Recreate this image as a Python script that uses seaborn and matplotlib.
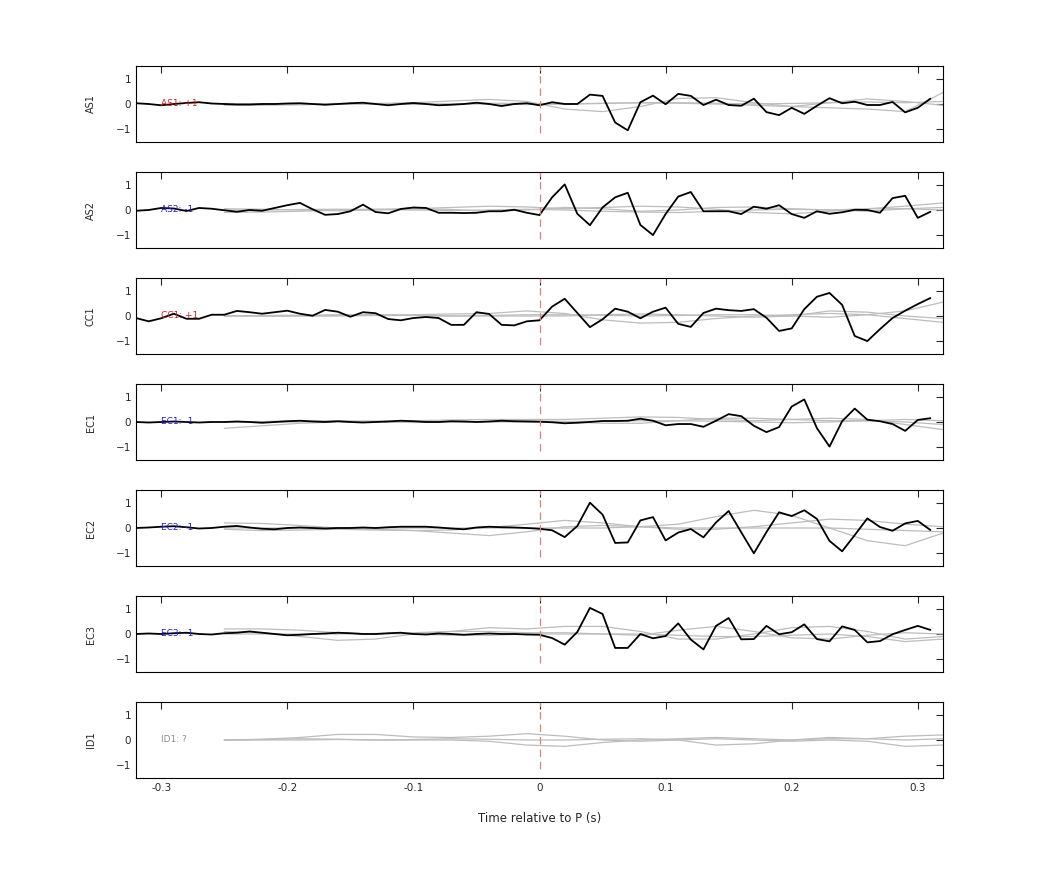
import numpy as np
import pandas as pd
import matplotlib
matplotlib.use("Agg")
import matplotlib.pyplot as plt
import seaborn as sns

stations = ["AS1", "AS2", "CC1", "EC1", "EC2", "EC3", "ID1"]
labels = ["AS1: +1", "AS2: -1", "CC1: +1", "EC1: -1", "EC2: -1", "EC3: -1", "ID1: ?"]
label_colors = ["#d62020", "#2020d0", "#d62020", "#2020d0", "#2020d0", "#2020d0", "#8c8c8c"]

t_black = np.round(np.arange(-32, 32) * 0.01, 2)
t_gray = np.round(np.arange(20) * 0.03 - 0.25, 2)

AS1 = [0.03,0.0,-0.05,0.0,0.04,0.07,0.02,0.0,-0.02,-0.02,0.0,0.0,0.02,0.03,0.0,-0.03,0.0,0.03,0.05,0.0,-0.05,0.0,0.04,0.0,-0.05,-0.03,0.0,0.05,0.0,-0.08,0.0,0.03,
       -0.05,0.07,0.0,0.0,0.37,0.32,-0.73,-1.04,0.07,0.33,-0.01,0.4,0.32,-0.04,0.17,-0.04,-0.07,0.21,-0.32,-0.44,-0.15,-0.39,-0.07,0.23,0.03,0.09,-0.04,-0.04,0.08,-0.33,-0.15,0.21]
AS2 = [-0.03,0.0,0.08,0.06,-0.04,0.08,0.05,-0.01,-0.07,0.0,-0.03,0.08,0.19,0.28,0.03,-0.19,-0.16,-0.05,0.21,-0.08,-0.13,0.04,0.1,0.08,-0.11,-0.11,-0.12,-0.11,-0.05,-0.05,0.01,-0.11,
       -0.2,0.5,1.01,-0.15,-0.6,0.1,0.5,0.68,-0.59,-0.99,-0.16,0.53,0.71,-0.05,-0.05,-0.05,-0.16,0.13,0.05,0.19,-0.16,-0.31,-0.05,-0.15,-0.09,0.01,0.0,-0.11,0.47,0.56,-0.31,-0.07]
CC1 = [-0.08,-0.21,-0.09,0.09,-0.11,-0.11,0.05,0.05,0.2,0.15,0.09,0.15,0.21,0.09,0.01,0.24,0.17,-0.03,0.15,0.11,-0.12,-0.17,-0.08,-0.04,-0.08,-0.35,-0.35,0.15,0.08,-0.35,-0.37,-0.21,
       -0.17,0.37,0.68,0.12,-0.44,-0.13,0.29,0.17,-0.09,0.17,0.33,-0.31,-0.43,0.12,0.29,0.23,0.2,0.27,-0.07,-0.59,-0.49,0.27,0.76,0.91,0.44,-0.79,-0.99,-0.52,-0.08,0.21,0.47,0.71]
EC1 = [0.0,-0.02,0.0,0.02,0.0,-0.02,0.0,0.0,0.02,0.0,-0.03,0.0,0.03,0.05,0.02,0.0,0.03,0.0,-0.02,0.0,0.02,0.05,0.03,0.0,0.0,0.03,0.02,0.0,0.02,0.05,0.03,0.02,
       0.01,-0.01,-0.05,-0.03,0.0,0.04,0.04,0.05,0.13,0.05,-0.13,-0.08,-0.08,-0.19,0.05,0.31,0.23,-0.15,-0.4,-0.2,0.61,0.89,-0.24,-0.97,0.03,0.53,0.09,0.03,-0.08,-0.35,0.08,0.15]
EC2 = [0.0,0.02,0.05,0.07,0.03,-0.02,0.0,0.05,0.08,0.02,-0.03,-0.05,0.0,0.02,0.0,-0.02,0.0,0.0,0.02,0.0,0.03,0.05,0.05,0.05,0.02,-0.02,-0.05,0.02,0.05,0.03,0.02,0.0,
       -0.03,-0.09,-0.36,0.08,1.0,0.53,-0.59,-0.57,0.3,0.43,-0.49,-0.18,-0.04,-0.37,0.22,0.67,-0.17,-1.0,-0.16,0.62,0.47,0.7,0.36,-0.51,-0.92,-0.28,0.38,0.04,-0.11,0.18,0.28,-0.08]
EC3 = [0.0,0.02,0.0,0.03,0.05,0.0,-0.02,0.03,0.05,0.1,0.05,0.0,-0.05,-0.03,0.0,0.02,0.05,0.03,0.0,0.0,0.03,0.05,0.0,-0.02,0.02,0.0,-0.03,0.0,0.02,0.0,0.0,-0.02,
       -0.03,-0.16,-0.42,0.08,1.03,0.79,-0.55,-0.55,0.0,-0.17,-0.08,0.42,-0.22,-0.61,0.32,0.63,-0.21,-0.2,0.32,-0.01,0.07,0.38,-0.2,-0.29,0.3,0.16,-0.33,-0.28,-0.01,0.16,0.32,0.16]
black = {"AS1": AS1, "AS2": AS2, "CC1": CC1, "EC1": EC1, "EC2": EC2, "EC3": EC3, "ID1": None}

gray = {
    "AS1": [[-0.05,-0.05,-0.03,0,0.02,0.05,0.12,0.18,0.1,-0.2,-0.3,-0.1,0.22,0.25,0.05,-0.1,0.05,0.2,0.1,-0.05],
            [0,0,0,0,0,0,0,0,-0.02,0,0.03,0.05,0.03,0,-0.05,-0.1,-0.15,-0.2,-0.3,0.45],
            [0.02,0.01,0,0.02,0,-0.02,0,0.03,0.02,0,0.02,0.05,0.05,0.03,0,0.02,0.05,0.08,0.05,0.1]],
    "AS2": [[-0.1,-0.08,-0.05,0,0.03,0.05,0.1,0.15,0.12,0.05,0.1,0.15,0.12,0.03,-0.1,-0.15,-0.05,0.05,0.15,0.28],
            [0.05,0.03,0,-0.03,0,0.05,0.02,-0.05,0,0.1,0.05,-0.05,0,0.1,0.12,0.05,0,0.05,0.05,0],
            [0,0,0.02,0.03,0.02,0,-0.02,0,0.03,0,-0.05,-0.08,-0.1,-0.05,0,0.03,0,-0.05,0.05,0.1]],
    "CC1": [[0,0,0,0.02,0.03,0.05,0.08,0.1,0.2,0.1,-0.15,-0.28,-0.25,-0.1,0,0.05,0.1,0.05,-0.1,-0.25],
            [0,0.02,0.03,0.05,0.05,0.03,0,0.02,0.05,0.05,0.03,0,0.02,0.05,0.05,0,-0.05,0.05,0.2,0.55],
            [0.02,0,0,0,0.02,0.02,0,0,0,0,0.05,0.08,0.05,0,-0.05,0,0.2,0.15,0,-0.1]],
    "EC1": [[-0.25,-0.15,-0.05,0,0.03,0.05,0.08,0.1,0.1,0.1,0.15,0.2,0.18,0.1,0.05,0.1,0.15,0.1,-0.1,-0.3],
            [0,0.02,0.05,0.05,0.03,0,0,0.02,0.05,0.02,-0.05,-0.05,0.05,0.15,0.15,0.1,0.05,0.05,0,-0.1],
            [0,0,0,0.02,0,-0.02,0,0,0,0.02,0.03,0.05,0.05,0.03,0,-0.03,0,0.05,0.1,0.05]],
    "EC2": [[0,0,0,0,0,0,0,0,0,0,0,0.05,0.15,0.45,0.7,0.5,0,-0.5,-0.7,-0.2],
            [0.2,0.18,0.1,0,-0.05,-0.1,-0.08,0.02,0.15,0.3,0.2,0.05,-0.05,-0.05,0.05,0.2,0.35,0.3,0.15,0.05],
            [-0.05,-0.1,-0.08,-0.05,-0.08,-0.1,-0.2,-0.3,-0.15,0.05,0.1,0.05,0,0,0,0,0,-0.05,-0.1,-0.15]],
    "EC3": [[0.2,0.2,0.15,0.05,0,0.05,0.1,0.25,0.2,0.3,0.3,0.1,-0.2,-0.2,0,0.25,0.3,0.1,-0.2,-0.1],
            [0.1,0.05,-0.1,-0.25,-0.2,0,0.1,0.1,0.05,0.05,0,-0.05,0.15,0.3,0.1,-0.15,-0.2,-0.05,0.05,0],
            [0,0,0,0,0.02,0,-0.05,-0.05,0,0,0,0,-0.05,-0.1,-0.1,-0.05,0,-0.1,-0.3,-0.2]],
    "ID1": [[0,0.03,0.1,0.22,0.22,0.12,0.1,0.15,0.25,0.15,0,-0.05,0,0.05,0,-0.05,0,-0.05,-0.25,-0.2],
            [0,0,0,0.02,0,0,0,-0.05,-0.2,-0.25,-0.1,0,0.05,0.1,0.05,0,0.05,0.05,0.15,0.2],
            [0,0.02,0.05,0.03,0,0.02,0.05,0.03,0,0,0.03,0.05,0,-0.2,-0.15,0,0.1,0.05,0,0.05]],
}

sns.set_style("white")
plt.rcParams["font.family"] = ["DejaVu Sans"]

W, H = 1042, 875
fig = plt.figure(figsize=(W / 100, H / 100), dpi=100)
tops = [66, 172, 278, 384, 490, 596, 702]
left, right, ph = 136, 943, 76

for i, st in enumerate(stations):
    ax = fig.add_axes([left / W, 1 - (tops[i] + ph) / H, (right - left) / W, ph / H])
    for j, g in enumerate(gray[st]):
        sns.lineplot(x=t_gray, y=g, ax=ax, color="#bdbdbd", lw=0.9, estimator=None, sort=False)
    if black[st] is not None:
        sns.lineplot(x=t_black, y=black[st], ax=ax, color="black", lw=1.3, estimator=None, sort=False)
    ax.axvline(0, color="#e08080", lw=0.9, ls=(0, (6, 4)), ymin=0.12, ymax=1.0)
    ax.text(-0.3, 0, labels[i], color=label_colors[i], fontsize=6.5, va="center", ha="left")
    ax.set_xlim(-0.32, 0.32)
    ax.set_ylim(-1.5, 1.5)
    ax.set_yticks([-1, 0, 1])
    ax.set_xticks([-0.3, -0.2, -0.1, 0, 0.1, 0.2, 0.3])
    ax.tick_params(direction="in", top=True, right=True, length=5, labelsize=7.5, width=0.8)
    ax.set_ylabel(st, fontsize=7)
    ax.yaxis.set_label_coords(-0.05, 0.5)
    for s in ax.spines.values():
        s.set_linewidth(0.8)
        s.set_color("black")
    if i < len(stations) - 1:
        ax.set_xticklabels([])
    else:
        ax.set_xticklabels(["-0.3", "-0.2", "-0.1", "0", "0.1", "0.2", "0.3"])
        ax.set_xlabel("Time relative to P (s)", fontsize=8.5, labelpad=14)

fig.savefig("out.png", dpi=100)
